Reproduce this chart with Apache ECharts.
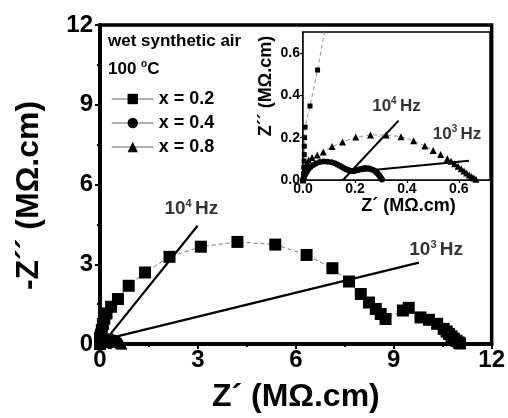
<!DOCTYPE html>
<html>
<head>
<meta charset="utf-8">
<script src="https://cdn.jsdelivr.net/npm/echarts@6/dist/echarts.min.js"></script>
<style>
  html, body { margin: 0; padding: 0; background: #fff; }
  #chart { width: 508px; height: 418px; }
</style>
</head>
<body>
<div id="chart"></div>
<script>
// Nyquist plots, wet synthetic air, 100 °C — Z' and -Z'' in MΩ.cm
const seriesNames = ['x = 0.2', 'x = 0.4', 'x = 0.8'];

const impX02 = [
  [0.000, 0.00], [0.002, 0.03], [0.003, 0.06], [0.004, 0.09], [0.005, 0.12],
  [0.005, 0.16], [0.006, 0.20], [0.008, 0.25], [0.027, 0.35], [0.056, 0.52],
  [0.09, 0.75], [0.13, 0.95], [0.20, 1.15], [0.34, 1.40], [0.55, 1.69],
  [0.88, 2.19], [1.38, 2.69], [2.13, 3.28], [3.09, 3.66], [4.21, 3.84],
  [5.37, 3.74], [6.33, 3.35], [7.12, 2.85], [7.63, 2.35], [7.99, 1.88],
  [8.24, 1.56], [8.45, 1.32], [8.60, 1.13], [8.75, 0.94], [9.28, 1.26],
  [9.46, 1.36], [9.82, 1.00], [10.08, 0.91], [10.33, 0.76], [10.53, 0.57],
  [10.62, 0.47], [10.69, 0.38], [10.77, 0.29], [10.84, 0.20], [10.92, 0.12],
  [10.99, 0.06], [11.03, 0.02]
];

const impX04 = [
  [0.000, 0.000], [0.003, 0.010], [0.006, 0.020], [0.010, 0.030], [0.015, 0.040],
  [0.020, 0.050], [0.028, 0.060], [0.038, 0.070], [0.050, 0.078], [0.065, 0.085],
  [0.080, 0.087], [0.095, 0.086], [0.110, 0.084], [0.122, 0.079], [0.132, 0.073],
  [0.141, 0.067], [0.150, 0.061], [0.158, 0.056], [0.166, 0.051], [0.174, 0.047],
  [0.182, 0.044], [0.190, 0.042], [0.198, 0.043], [0.206, 0.046], [0.214, 0.049],
  [0.222, 0.052], [0.230, 0.054], [0.238, 0.055], [0.246, 0.055], [0.254, 0.054],
  [0.262, 0.051], [0.270, 0.047], [0.277, 0.042], [0.283, 0.036], [0.288, 0.029],
  [0.293, 0.022], [0.297, 0.015], [0.301, 0.008], [0.304, 0.002]
];

const impX08 = [
  [0.000, 0.000], [0.003, 0.020], [0.006, 0.040], [0.010, 0.060], [0.015, 0.078],
  [0.022, 0.094], [0.035, 0.106], [0.055, 0.118], [0.078, 0.132], [0.112, 0.158],
  [0.152, 0.180], [0.203, 0.203], [0.260, 0.213], [0.320, 0.213], [0.377, 0.205],
  [0.426, 0.186], [0.469, 0.161], [0.501, 0.139], [0.530, 0.121], [0.556, 0.101],
  [0.570, 0.089], [0.584, 0.077], [0.597, 0.065], [0.609, 0.053], [0.620, 0.043],
  [0.630, 0.033], [0.640, 0.024], [0.649, 0.016], [0.658, 0.009], [0.666, 0.003]
];

// straight guide lines through the 10^4 Hz and 10^3 Hz points
const guide1e4Main = [[0.25, 0.27], [2.99, 4.45]];
const guide1e3Main = [[0.40, 0.25], [9.77, 3.06]];
const guide1e4Inset = [[0.154, 0.000], [0.368, 0.281]];
const guide1e3Inset = [[0.190, 0.038], [0.639, 0.091]];

// frequency label anchors (data coordinates)
const labelMain = [[2.80, 5.07, '4'], [10.30, 3.54, '3']];
const labelInset = [[0.360, 0.350, '4'], [0.593, 0.218, '3']];

const mainTicks = [0, 3, 6, 9, 12];
const insetTicks = [0, 0.2, 0.4, 0.6];

const FONT = "'Liberation Sans', Arial, Helvetica, sans-serif";

const chart = echarts.init(document.getElementById('chart'), null, { renderer: 'canvas' });

const markerStyle = { color: '#000' };
const connector = (w) => ({ color: '#777', width: w, type: [4, 3] });

function curve(name, data, sym, size, grid, lw) {
  return {
    name: name, type: 'line', data: data,
    xAxisIndex: grid, yAxisIndex: grid,
    symbol: sym, symbolSize: size, showAllSymbol: true,
    itemStyle: markerStyle, lineStyle: connector(lw),
    emphasis: { disabled: true }, animation: false, z: 3
  };
}

function guide(data, grid, w) {
  return {
    type: 'line', data: data, xAxisIndex: grid, yAxisIndex: grid,
    symbol: 'none', lineStyle: { color: '#000', width: w },
    silent: true, animation: false, z: 4
  };
}

function freqLabels(data, grid, fs) {
  return {
    type: 'scatter', xAxisIndex: grid, yAxisIndex: grid,
    data: data.map(d => ({ value: [d[0], d[1]], exp: d[2] })),
    symbolSize: 0, silent: true, animation: false, z: 5,
    label: {
      show: true, position: 'inside', align: 'center', verticalAlign: 'middle',
      formatter: p => '{b|10}{s|' + p.data.exp + '} {b|Hz}',
      rich: {
        b: { fontFamily: FONT, fontWeight: 'bold', fontSize: fs, color: '#000', lineHeight: fs + 2 },
        s: { fontFamily: FONT, fontWeight: 'bold', fontSize: Math.round(fs * 0.6), color: '#000', verticalAlign: 'top', lineHeight: fs + 2 }
      }
    }
  };
}

const axisBase = (w) => ({
  axisLine: { show: true, onZero: false, lineStyle: { color: '#000', width: w } },
  splitLine: { show: false }
});

chart.setOption({
  animation: false,
  backgroundColor: '#fff',
  grid: [
    { left: 100, top: 25, width: 393, height: 322, show: true, borderColor: '#000', borderWidth: 3.5, backgroundColor: 'transparent' },
    { left: 303, top: 32, width: 187, height: 148, show: true, borderColor: '#000', borderWidth: 1.5, backgroundColor: '#fff', z: 2 }
  ],
  xAxis: [
    Object.assign(axisBase(4), {
      gridIndex: 0, type: 'value', min: 0, max: 12, interval: 3,
      axisTick: { show: true, inside: false, length: 5, lineStyle: { width: 2, color: '#000' } },
      minorTick: { show: true, splitNumber: 2, length: 3, lineStyle: { width: 2, color: '#000' } },
      axisLabel: { customValues: mainTicks, fontFamily: FONT, fontWeight: 'bold', fontSize: 24, color: '#000', margin: 4 },
      name: 'Z\u00B4 (M\u03A9.cm)', nameLocation: 'middle', nameGap: 37,
      nameTextStyle: { fontFamily: FONT, fontWeight: 'bold', fontSize: 32, color: '#000' }
    }),
    Object.assign(axisBase(1.5), {
      gridIndex: 1, type: 'value', min: 0, max: 0.72,
      axisTick: { show: true, inside: false, length: 3, customValues: insetTicks, lineStyle: { width: 1.2, color: '#000' } },
      axisLabel: { customValues: insetTicks, formatter: v => v.toFixed(1), fontFamily: FONT, fontWeight: 'bold', fontSize: 14, color: '#000', margin: 2 },
      name: 'Z\u00B4 (M\u03A9.cm)', nameLocation: 'middle', nameGap: 17,
      nameTextStyle: { fontFamily: FONT, fontWeight: 'bold', fontSize: 18, color: '#000', padding: [0, 0, 0, 24] }
    })
  ],
  yAxis: [
    Object.assign(axisBase(4), {
      gridIndex: 0, type: 'value', min: 0, max: 12, interval: 3,
      axisTick: { show: true, inside: false, length: 5, lineStyle: { width: 2, color: '#000' } },
      minorTick: { show: true, splitNumber: 2, length: 3, lineStyle: { width: 2, color: '#000' } },
      axisLabel: { customValues: mainTicks, fontFamily: FONT, fontWeight: 'bold', fontSize: 24, color: '#000', margin: 7 },
      name: '-Z\u00B4\u00B4 (M\u03A9.cm)', nameLocation: 'middle', nameGap: 55,
      nameTextStyle: { fontFamily: FONT, fontWeight: 'bold', fontSize: 32, color: '#000', padding: [0, 22, 0, 0] }
    }),
    Object.assign(axisBase(1.5), {
      gridIndex: 1, type: 'value', min: 0, max: 0.7,
      axisTick: { show: true, inside: false, length: 3, customValues: insetTicks, lineStyle: { width: 1.2, color: '#000' } },
      axisLabel: { customValues: insetTicks, formatter: v => v.toFixed(1), fontFamily: FONT, fontWeight: 'bold', fontSize: 14, color: '#000', margin: 3 },
      name: 'Z\u00B4\u00B4 (M\u03A9.cm)', nameLocation: 'middle', nameGap: 28,
      nameTextStyle: { fontFamily: FONT, fontWeight: 'bold', fontSize: 18, color: '#000', padding: [0, 0, 0, 40] }
    })
  ],
  legend: {
    orient: 'vertical', left: 106, top: 85, itemGap: 6,
    itemWidth: 42, itemHeight: 13,
    data: seriesNames,
    lineStyle: { color: '#999', width: 1.5, type: 'solid' },
    textStyle: { fontFamily: FONT, fontWeight: 'bold', fontSize: 18, color: '#000' },
    selectedMode: false
  },
  graphic: [
    { type: 'text', left: 108, top: 33, z: 10,
      style: { text: 'wet synthetic air', font: 'bold 17px ' + FONT, fill: '#000' } },
    { type: 'text', left: 108, top: 59, z: 10,
      style: {
        text: '{b|100 }{s|o}{b|C}',
        rich: {
          b: { font: 'bold 17px ' + FONT, fill: '#000', lineHeight: 20 },
          s: { font: 'bold 10px ' + FONT, fill: '#000', verticalAlign: 'top', lineHeight: 20 }
        }
      } }
  ],
  series: [
    curve(seriesNames[0], impX02, 'rect', 12, 0, 1),
    curve(seriesNames[1], impX04, 'circle', 10, 0, 1),
    curve(seriesNames[2], impX08, 'triangle', 11, 0, 1),
    guide(guide1e4Main, 0, 2.2),
    guide(guide1e3Main, 0, 2.2),
    freqLabels(labelMain, 0, 19),
    curve(seriesNames[0], impX02, 'rect', 5, 1, 0.8),
    curve(seriesNames[1], impX04, 'circle', 6, 1, 0.8),
    curve(seriesNames[2], impX08, 'triangle', 7, 1, 0.8),
    guide(guide1e4Inset, 1, 2),
    guide(guide1e3Inset, 1, 2),
    freqLabels(labelInset, 1, 17)
  ]
});
</script>
</body>
</html>
